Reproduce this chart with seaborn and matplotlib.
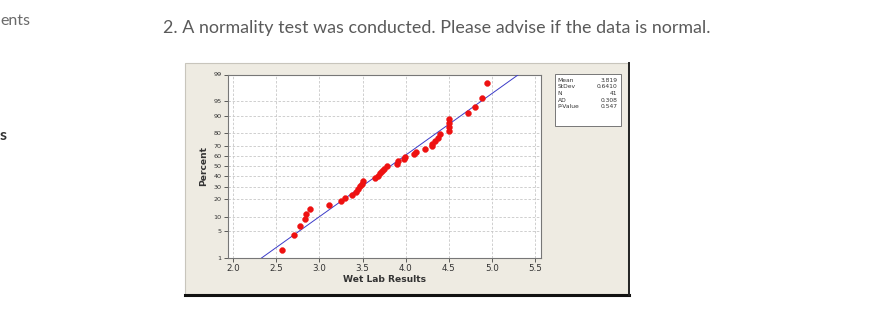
import numpy as np
import matplotlib
matplotlib.use("Agg")
import matplotlib.pyplot as plt
import seaborn as sns
from matplotlib.patches import Rectangle
from statistics import NormalDist

# ---- data ----
wet_lab_results = [2.57, 2.70, 2.77, 2.83, 2.84, 2.89, 3.11, 3.25, 3.30, 3.38,
                   3.42, 3.45, 3.47, 3.49, 3.50, 3.65, 3.68, 3.70, 3.73, 3.75,
                   3.78, 3.90, 3.91, 3.98, 3.99, 4.10, 4.12, 4.23, 4.30, 4.31,
                   4.34, 4.38, 4.40, 4.50, 4.50, 4.50, 4.50, 4.72, 4.81, 4.88,
                   4.94]
stat_names = ["Mean", "StDev", "N", "AD", "P-Value"]
stat_values = ["3.819", "0.6410", "41", "0.308", "0.547"]
mean_val = 3.819
sd_val = 0.6410
x_ticks = [2.0, 2.5, 3.0, 3.5, 4.0, 4.5, 5.0, 5.5]
y_ticks = [1, 5, 10, 20, 30, 40, 50, 60, 70, 80, 90, 95, 99]
title_text = "2. A normality test was conducted. Please advise if the data is normal."

# plotting positions (Minitab median ranks)
n = len(wet_lab_results)
xs = np.sort(np.array(wet_lab_results))
ranks = np.arange(1, n + 1)
percent = (ranks - 0.3) / (n + 0.4) * 100

nd = NormalDist()
fit = NormalDist(mean_val, sd_val)

_inv_cdf = np.vectorize(lambda v: nd.inv_cdf(v / 100.0), otypes=[float])
_cdf = np.vectorize(lambda v: nd.cdf(v) * 100.0, otypes=[float])


def fwd(p):
    p = np.clip(np.asarray(p, dtype=float), 1e-6, 100 - 1e-6)
    return _inv_cdf(p)


def inv(z):
    z = np.clip(np.asarray(z, dtype=float), -30, 30)
    return _cdf(z)


W, H = 881, 312
fig = plt.figure(figsize=(W / 100, H / 100), dpi=100)
fig.patch.set_facecolor("white")


def fx(px):
    return px / W


def fy(py):
    return 1 - py / H


# page text
fig.text(fx(0), fy(21), "ents", fontsize=11.5, color="#6a6a6a",
         family="Lato", va="center", ha="left")
fig.text(fx(163), fy(27.5), title_text, fontsize=12.9, color="#5a5a5a",
         family="Lato", va="center", ha="left")
fig.text(fx(0), fy(136), "s", fontsize=11.5, color="#333333",
         family="Lato", weight="bold", va="center", ha="left")

# Minitab panel
panel = Rectangle((fx(185), fy(294)), fx(628) - fx(185), fy(63) - fy(294),
                  transform=fig.transFigure, facecolor="#EEEBE2",
                  edgecolor="#C8C5BC", linewidth=0.8, zorder=-5)
fig.add_artist(panel)
fig.add_artist(plt.Line2D([fx(185), fx(629)], [fy(294.5), fy(294.5)],
                          transform=fig.transFigure, color="#111111", lw=2.2,
                          zorder=-4))
fig.add_artist(plt.Line2D([fx(628.5), fx(628.5)], [fy(63), fy(295)],
                          transform=fig.transFigure, color="#222222", lw=1.4,
                          zorder=-4))

# axes
ax = fig.add_axes([fx(228), fy(258), fx(541) - fx(228), fy(74.5) - fy(258)])
ax.set_zorder(1)
ax.set_facecolor("white")
ax.set_yscale("function", functions=(fwd, inv))
ax.set_xlim(1.939, 5.57)
ax.set_ylim(1, 99)

# fitted line
line_x = [fit.inv_cdf(0.01), fit.inv_cdf(0.99)]
line_y = [fit.cdf(v) * 100 for v in line_x]
sns.lineplot(x=line_x, y=line_y, ax=ax, color="#3B3BC8", lw=0.7, zorder=3)

# points
sns.scatterplot(x=xs, y=percent, ax=ax, color="#EE1111", edgecolor="#EE1111",
                s=18, linewidth=0.3, zorder=4)

ax.set_xlim(1.939, 5.57)
ax.set_ylim(1, 99)
ax.set_xticks(x_ticks)
ax.set_xticklabels([f"{t:.1f}" for t in x_ticks])
ax.set_yticks(y_ticks)
ax.set_yticklabels([str(t) for t in y_ticks])
ax.yaxis.set_minor_locator(matplotlib.ticker.NullLocator())
ax.tick_params(axis="x", labelsize=6.3, length=3, width=0.6, colors="#444444",
               labelcolor="#333333", pad=1.5)
ax.tick_params(axis="y", labelsize=4.6, length=3, width=0.6, colors="#444444",
               labelcolor="#333333", pad=1.5)
ax.grid(True, which="major", color="#C8C8C8", linestyle=(0, (3, 2)), lw=0.6)
ax.set_axisbelow(True)
for s in ax.spines.values():
    s.set_color("#777777")
    s.set_linewidth(0.8)

ax.set_xlabel("Wet Lab Results", fontsize=6.6, weight="bold", color="#333333",
              labelpad=1)
ax.set_ylabel("Percent", fontsize=6.6, weight="bold", color="#333333",
              labelpad=4)

# stats box
box = Rectangle((fx(555), fy(125.7)), fx(621) - fx(555), fy(74.3) - fy(125.7),
                transform=fig.transFigure, facecolor="white",
                edgecolor="#777777", linewidth=0.7, zorder=2)
fig.add_artist(box)
row_y = [80, 87, 93.3, 100, 107]
for nm, val, yy in zip(stat_names, stat_values, row_y):
    fig.text(fx(557.5), fy(yy), nm, fontsize=4.3, color="#333333",
             va="center", ha="left", zorder=3)
    fig.text(fx(617.5), fy(yy), val, fontsize=4.3, color="#333333",
             va="center", ha="right", zorder=3)

fig.savefig("out.png", dpi=100, facecolor="white")
